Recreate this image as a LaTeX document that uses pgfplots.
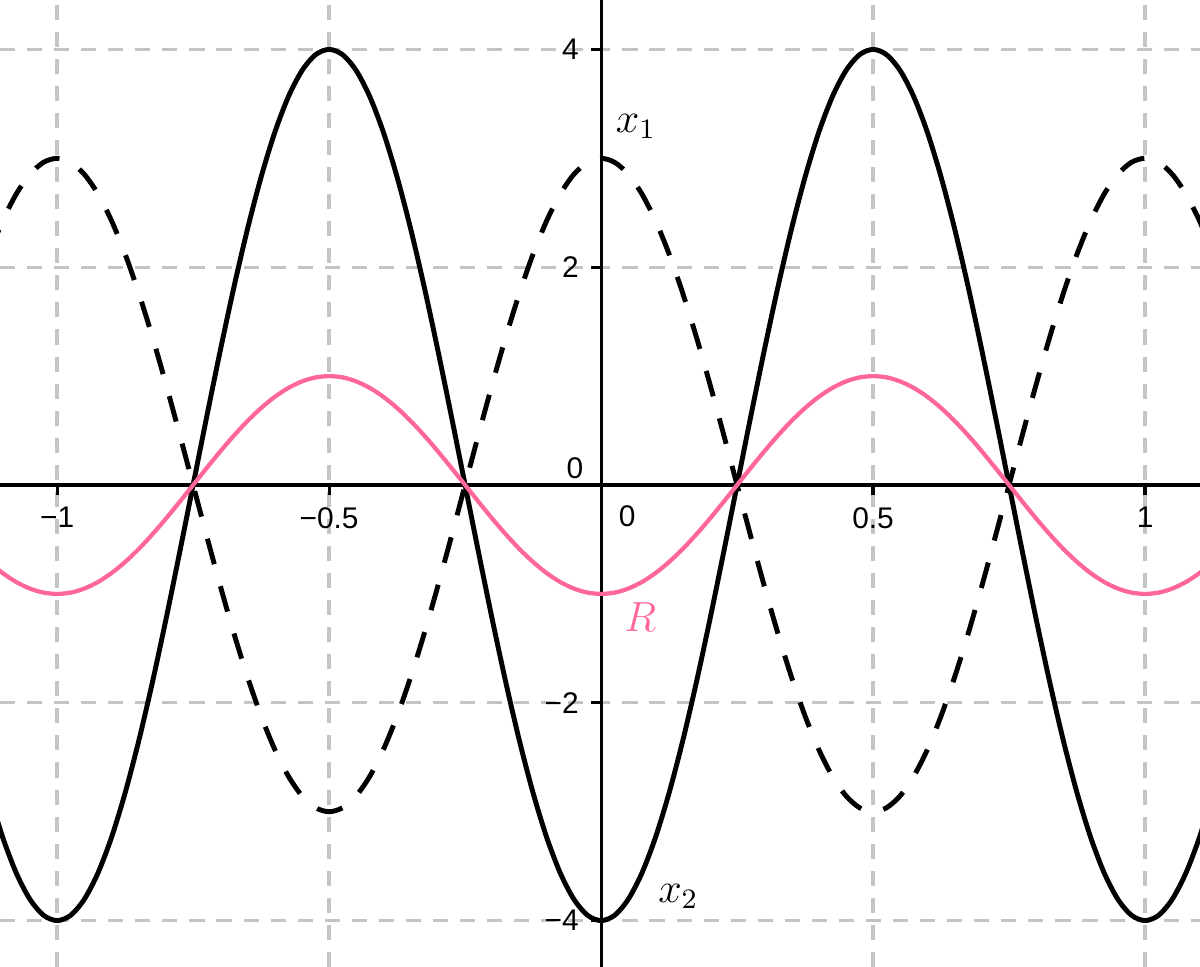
\documentclass[border=0pt]{standalone}
\usepackage{fontspec}
\setmainfont{Liberation Sans}
\usepackage{pgfplots}
\pgfplotsset{compat=1.18}
\usepackage{pgfplotstable}
\definecolor{rpink}{HTML}{FF6699}
\definecolor{gridgray}{HTML}{C4C4C4}

% x1 (dashed), x2 (solid) and R (pink), sampled every 0.025
\pgfplotstableread{
x X1 X2 R
-1.125 2.121 -2.828 -0.707
-1.100 2.427 -3.236 -0.809
-1.075 2.673 -3.564 -0.891
-1.050 2.853 -3.804 -0.951
-1.025 2.963 -3.951 -0.988
-1.000 3.000 -4.000 -1.000
-0.975 2.963 -3.951 -0.988
-0.950 2.853 -3.804 -0.951
-0.925 2.673 -3.564 -0.891
-0.900 2.427 -3.236 -0.809
-0.875 2.121 -2.828 -0.707
-0.850 1.763 -2.351 -0.588
-0.825 1.362 -1.816 -0.454
-0.800 0.927 -1.236 -0.309
-0.775 0.469 -0.626 -0.156
-0.750 0.000 0.000 0.000
-0.725 -0.469 0.626 0.156
-0.700 -0.927 1.236 0.309
-0.675 -1.362 1.816 0.454
-0.650 -1.763 2.351 0.588
-0.625 -2.121 2.828 0.707
-0.600 -2.427 3.236 0.809
-0.575 -2.673 3.564 0.891
-0.550 -2.853 3.804 0.951
-0.525 -2.963 3.951 0.988
-0.500 -3.000 4.000 1.000
-0.475 -2.963 3.951 0.988
-0.450 -2.853 3.804 0.951
-0.425 -2.673 3.564 0.891
-0.400 -2.427 3.236 0.809
-0.375 -2.121 2.828 0.707
-0.350 -1.763 2.351 0.588
-0.325 -1.362 1.816 0.454
-0.300 -0.927 1.236 0.309
-0.275 -0.469 0.626 0.156
-0.250 0.000 0.000 0.000
-0.225 0.469 -0.626 -0.156
-0.200 0.927 -1.236 -0.309
-0.175 1.362 -1.816 -0.454
-0.150 1.763 -2.351 -0.588
-0.125 2.121 -2.828 -0.707
-0.100 2.427 -3.236 -0.809
-0.075 2.673 -3.564 -0.891
-0.050 2.853 -3.804 -0.951
-0.025 2.963 -3.951 -0.988
0.000 3.000 -4.000 -1.000
0.025 2.963 -3.951 -0.988
0.050 2.853 -3.804 -0.951
0.075 2.673 -3.564 -0.891
0.100 2.427 -3.236 -0.809
0.125 2.121 -2.828 -0.707
0.150 1.763 -2.351 -0.588
0.175 1.362 -1.816 -0.454
0.200 0.927 -1.236 -0.309
0.225 0.469 -0.626 -0.156
0.250 0.000 0.000 0.000
0.275 -0.469 0.626 0.156
0.300 -0.927 1.236 0.309
0.325 -1.362 1.816 0.454
0.350 -1.763 2.351 0.588
0.375 -2.121 2.828 0.707
0.400 -2.427 3.236 0.809
0.425 -2.673 3.564 0.891
0.450 -2.853 3.804 0.951
0.475 -2.963 3.951 0.988
0.500 -3.000 4.000 1.000
0.525 -2.963 3.951 0.988
0.550 -2.853 3.804 0.951
0.575 -2.673 3.564 0.891
0.600 -2.427 3.236 0.809
0.625 -2.121 2.828 0.707
0.650 -1.763 2.351 0.588
0.675 -1.362 1.816 0.454
0.700 -0.927 1.236 0.309
0.725 -0.469 0.626 0.156
0.750 0.000 0.000 0.000
0.775 0.469 -0.626 -0.156
0.800 0.927 -1.236 -0.309
0.825 1.362 -1.816 -0.454
0.850 1.763 -2.351 -0.588
0.875 2.121 -2.828 -0.707
0.900 2.427 -3.236 -0.809
0.925 2.673 -3.564 -0.891
0.950 2.853 -3.804 -0.951
0.975 2.963 -3.951 -0.988
1.000 3.000 -4.000 -1.000
1.025 2.963 -3.951 -0.988
1.050 2.853 -3.804 -0.951
1.075 2.673 -3.564 -0.891
1.100 2.427 -3.236 -0.809
1.125 2.121 -2.828 -0.707
}\waves

\begin{document}
\begin{tikzpicture}
\begin{axis}[
    scale only axis,
    width=12cm, height=9.67cm,
    xmin=-1.105, xmax=1.101,
    ymin=-4.426, ymax=4.454,
    axis lines=middle,
    axis line style={line width=0.9pt, -},
    xtick={-1,-0.5,0.5,1},
    xticklabels={−1,−0.5,0.5,1},
    ytick={-4,-2,2,4},
    yticklabels={−4,−2,2,4},
    tick style={line width=0.9pt, black},
    tick align=outside,
    major tick length=1mm,
    grid=major,
    grid style={line width=0.95pt, gridgray, dash pattern=on 4.3pt off 3.4pt},
    ticklabel style={font=\fontsize{8.5}{10}\selectfont},
    no markers,
]
\addplot[black, line width=1.4pt, dash pattern=on 7.5pt off 6.5pt, smooth] table[x=x, y=X1] {\waves};
\addplot[black, line width=1.4pt, smooth] table[x=x, y=X2] {\waves};
\addplot[rpink, line width=1.2pt, smooth] table[x=x, y=R] {\waves};

\node[font=\fontsize{8.5}{10}\selectfont] at (axis cs:0.048,-0.29) {0};
\node[font=\fontsize{8.5}{10}\selectfont] at (axis cs:-0.048,0.156) {0};
\node[font=\fontsize{12}{15}\selectfont] at (axis cs:0.064,3.29) {$x_1$};
\node[font=\fontsize{12}{15}\selectfont] at (axis cs:0.142,-3.78) {$x_2$};
\node[font=\fontsize{12}{15}\selectfont, text=rpink] at (axis cs:0.072,-1.21) {$R$};
\end{axis}
\pgfresetboundingbox
\path (current axis.south west) rectangle (current axis.north east);
\end{tikzpicture}
\end{document}
